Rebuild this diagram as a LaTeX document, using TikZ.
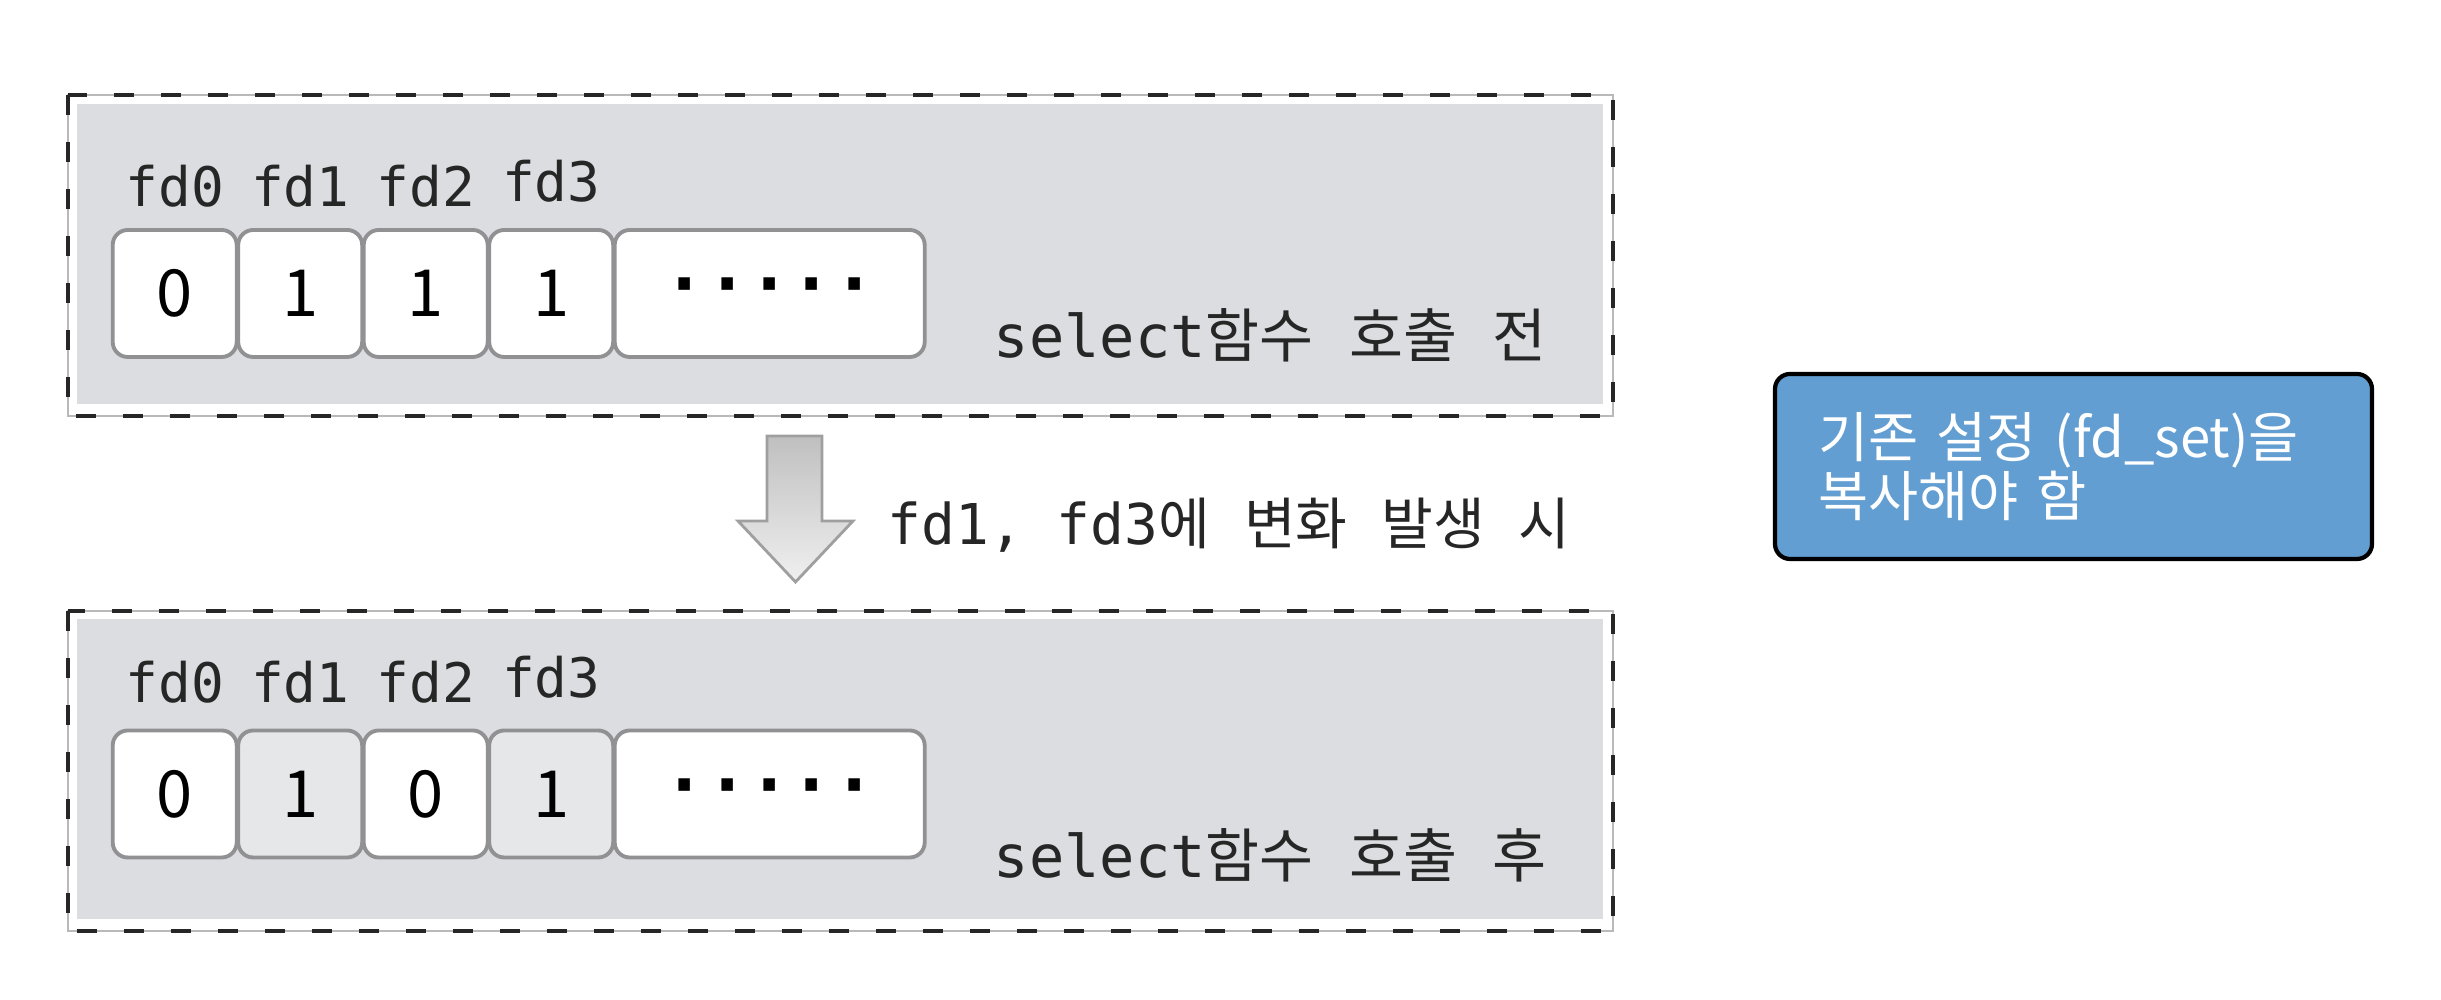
\documentclass[tikz,border=0pt]{standalone}
\usepackage{fontspec}
\setmonofont{DejaVu Sans Mono}
\newfontfamily\kr{Noto Sans CJK KR}
\newcommand\kor[1]{{\kr #1}}
\usetikzlibrary{positioning}
\definecolor{panelgray}{RGB}{220,221,224}
\definecolor{bitgray}{RGB}{230,231,233}
\definecolor{bitline}{RGB}{145,145,148}
\definecolor{noteblue}{RGB}{98,158,210}
\begin{document}
\begin{tikzpicture}[
  frame/.style={draw=gray!55,line width=0.4pt},
  panel/.style={draw=black!85,line width=1.1pt,dash pattern=on 2mm off 2.7mm},
  back/.style={fill=panelgray},
  bit/.style={draw=bitline,line width=1.1pt,rounded corners=1.5mm,fill=white,
    minimum width=1.24cm,minimum height=1.27cm,inner sep=0pt,outer sep=0pt,
    font=\kr\fontsize{18.5}{18.5}\selectfont},
  bitset/.style={bit,fill=bitgray},
  rest/.style={bit,minimum width=3.1cm,font=\ttfamily\bfseries\fontsize{20}{20}\selectfont},
  fdlab/.style={inner sep=0pt,text=black!85,font=\ttfamily\fontsize{15.5}{15.5}\selectfont},
  caption/.style={anchor=west,inner sep=0pt,text=black!85,font=\ttfamily\fontsize{16.7}{16.7}\selectfont},
  chgarrow/.style={draw=gray!75,line width=0.8pt,top color=gray!50,bottom color=gray!12},
  note/.style={draw,line width=1.2pt,rounded corners=1.5mm,fill=noteblue,text=white,
    minimum width=5.97cm,minimum height=1.85cm,text width=5.11cm,align=left,
    font=\kr\fontsize{15.5}{16.8}\selectfont}]
\useasboundingbox (0,0) rectangle (24.41,10);
\fill[back] (0.77,8.96) rectangle (16.03,5.96);
\draw[frame] (0.68,9.05) rectangle (16.13,5.84);
\draw[panel] (0.68,9.05) rectangle (16.13,5.84);
\fill[back] (0.77,3.81) rectangle (16.03,0.81);
\draw[frame] (0.68,3.89) rectangle (16.13,0.69);
\draw[panel] (0.68,3.89) rectangle (16.13,0.69);
\node[bit] (a0) at (1.747,7.065) {0};
\node[bit,right=0.015cm of a0] (a1) {1};
\node[bit,right=0.015cm of a1] (a2) {1};
\node[bit,right=0.015cm of a2] (a3) {1};
\node[rest,right=0.015cm of a3] (a4) {·····};
\foreach \i in {0,1,2}
  \node[fdlab,above=0.22cm of a\i] (la\i) {fd\i};
\node[fdlab,above=0.27cm of a3] (la3) {fd3};
\node[caption] (pre) at (9.93,6.65) {select\kor{함수} \kor{호출} \kor{전}};
\node[bit] (b0) at (1.747,2.06) {0};
\node[bitset,right=0.015cm of b0] (b1) {1};
\node[bit,right=0.015cm of b1] (b2) {0};
\node[bitset,right=0.015cm of b2] (b3) {1};
\node[rest,right=0.015cm of b3] (b4) {·····};
\foreach \i in {0,1,2}
  \node[fdlab,above=0.27cm of b\i] (lb\i) {fd\i};
\node[fdlab,above=0.32cm of b3] (lb3) {fd3};
\node[caption] (post) at (9.93,1.45) {select\kor{함수} \kor{호출} \kor{후}};
\draw[chgarrow] (7.67,5.64) -- (8.22,5.64) -- (8.22,4.79) -- (8.53,4.79)
  -- (7.955,4.18) -- (7.38,4.79) -- (7.67,4.79) -- cycle;
\node[caption,font=\ttfamily\fontsize{16}{16}\selectfont] (chg) at (8.87,4.75)
  {fd1, fd3\kor{에} \kor{변화} \kor{발생} \kor{시}};
\node[note] (copy) at (20.735,5.335) {기존 설정 (fd\_set)을\\복사해야 함};
\end{tikzpicture}
\end{document}
